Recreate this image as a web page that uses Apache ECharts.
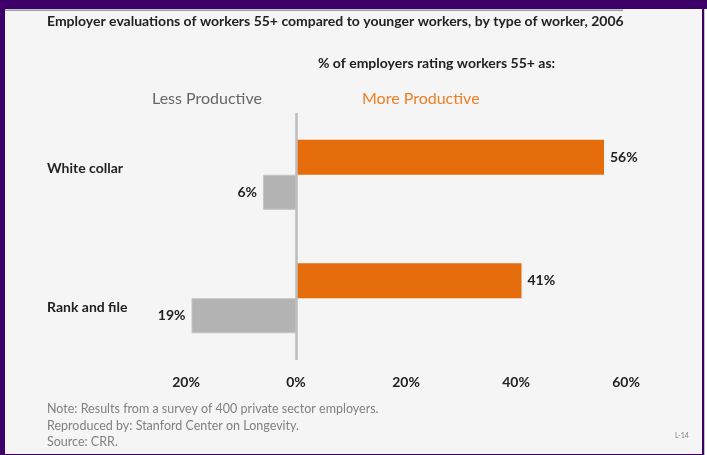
<!DOCTYPE html>
<html>
<head>
<meta charset="utf-8">
<script src="https://cdn.jsdelivr.net/npm/echarts@6/dist/echarts.min.js"></script>
<style>
  html, body { margin: 0; padding: 0; background: #ffffff; }
  #chart { width: 707px; height: 455px; }
</style>
</head>
<body>
<div id="chart"></div>
<script>
// data
var categories = ["White collar", "Rank and file"];
var moreProductive = [56, 41];
var lessProductive = [-6, -19];
var tickMin = -20;
var tickMax = 60;
var tickStep = 20;

var font = "Lato";
var purple = "#3d0068";

var chart = echarts.init(document.getElementById("chart"));

var pctLabel = function (p) { return Math.abs(p.value) + "%"; };

var option = {
  backgroundColor: "#f5f5f5",
  animation: false,
  textStyle: { fontFamily: font },
  title: [
    {
      text: "Employer evaluations of workers 55+ compared to younger workers, by type of worker, 2006",
      left: 47, top: 14, padding: 0,
      textStyle: { fontFamily: font, fontSize: 14, fontWeight: "bold", color: "#222" }
    },
    {
      text: "% of employers rating workers 55+ as:",
      left: 318, top: 56, padding: 0,
      textStyle: { fontFamily: font, fontSize: 14, fontWeight: "bold", color: "#222" }
    },
    {
      text: "Less Productive",
      left: 152, top: 91, padding: 0,
      textStyle: { fontFamily: font, fontSize: 16, fontWeight: "normal", color: "#666" }
    },
    {
      text: "More Productive",
      left: 362, top: 91, padding: 0,
      textStyle: { fontFamily: font, fontSize: 16, fontWeight: "normal", color: "#ef7f24" }
    },
    {
      text: "Note: Results from a survey of 400 private sector employers.\nReproduced by: Stanford Center on Longevity.\nSource: CRR.",
      left: 47, top: 401, padding: 0,
      textStyle: { fontFamily: font, fontSize: 12.5, fontWeight: "normal", color: "#808080", lineHeight: 16.5 }
    },
    {
      text: "L-14",
      left: 675, top: 432, padding: 0,
      textStyle: { fontFamily: font, fontSize: 7, fontWeight: "normal", color: "#808080" }
    }
  ],
  graphic: [
    { type: "rect", left: 0, top: 0, shape: { width: 707, height: 9 }, style: { fill: purple }, z: 100 },
    { type: "rect", left: 5, top: 9.5, shape: { width: 618, height: 1.5 }, style: { fill: "#9a9a9a" }, z: 100 },
    { type: "rect", left: 0, top: 0, shape: { width: 5, height: 455 }, style: { fill: purple }, z: 100 },
    { type: "rect", left: 702, top: 0, shape: { width: 2.5, height: 455 }, style: { fill: purple }, z: 100 },
    { type: "rect", left: 704.5, top: 9, shape: { width: 2.5, height: 446 }, style: { fill: "#ffffff" }, z: 100 },
    { type: "rect", left: 0, top: 454, shape: { width: 704, height: 1 }, style: { fill: purple }, z: 100 }
  ],
  grid: {
    left: 186,
    right: 81,
    top: 113,
    bottom: 95,
    containLabel: false,
    outerBoundsMode: "none"
  },
  xAxis: {
    type: "value",
    min: tickMin,
    max: tickMax,
    interval: tickStep,
    axisLine: { show: false },
    axisTick: { show: false },
    splitLine: { show: false },
    axisLabel: {
      margin: 15,
      fontFamily: font,
      fontSize: 14,
      fontWeight: "bold",
      color: "#222",
      formatter: function (v) { return Math.abs(v) + "%"; }
    }
  },
  yAxis: {
    type: "category",
    inverse: true,
    data: categories,
    axisLine: { show: false },
    axisTick: { show: false },
    axisLabel: {
      align: "left",
      margin: 139,
      fontFamily: font,
      fontSize: 14,
      fontWeight: "bold",
      color: "#222",
      formatter: function (v, i) {
        return (i === 0 ? "{up|" : "{down|") + v + "}";
      },
      rich: {
        up: { fontFamily: font, fontSize: 14, fontWeight: "bold", color: "#222", padding: [0, 0, 12, 0] },
        down: { fontFamily: font, fontSize: 14, fontWeight: "bold", color: "#222", padding: [18, 0, 0, 0] }
      }
    }
  },
  series: [
    {
      name: "More Productive",
      type: "bar",
      data: moreProductive,
      barWidth: 35,
      barGap: "0%",
      itemStyle: { color: "#e46c0a" },
      label: {
        show: true,
        position: "right",
        distance: 6,
        fontFamily: font,
        fontSize: 14,
        fontWeight: "bold",
        color: "#222",
        formatter: pctLabel
      },
      markLine: {
        silent: true,
        symbol: "none",
        label: { show: false },
        lineStyle: { color: "#bdbdbd", width: 2.5, type: "solid" },
        data: [{ xAxis: 0 }]
      }
    },
    {
      name: "Less Productive",
      type: "bar",
      data: lessProductive,
      barWidth: 35,
      barGap: "0%",
      itemStyle: { color: "#b3b3b3", borderColor: "#c4c4c4", borderWidth: 1 },
      label: {
        show: true,
        position: "left",
        distance: 6,
        fontFamily: font,
        fontSize: 14,
        fontWeight: "bold",
        color: "#222",
        formatter: pctLabel
      }
    }
  ]
};

chart.setOption(option);
</script>
</body>
</html>
